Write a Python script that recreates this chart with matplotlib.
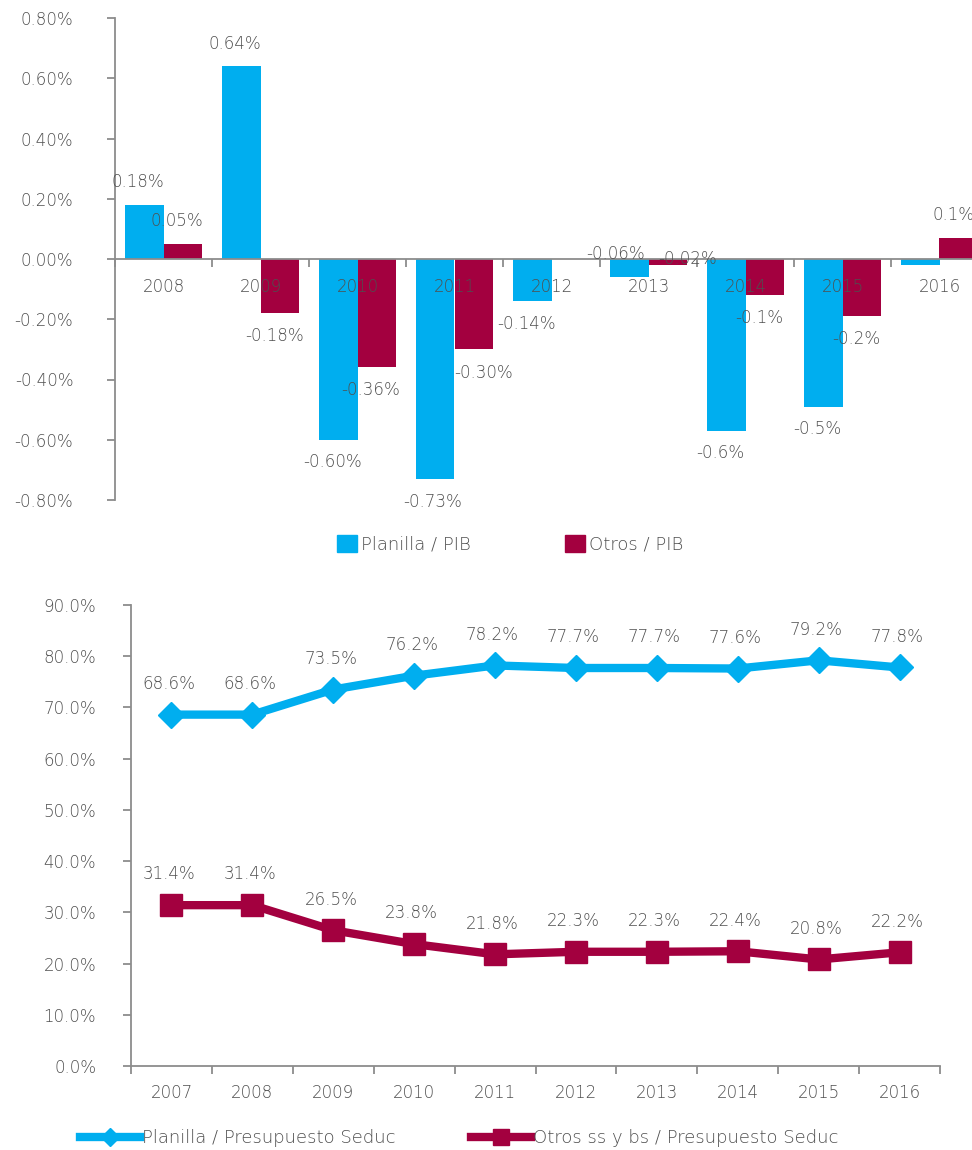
import matplotlib
matplotlib.use("Agg")
import matplotlib.pyplot as plt
import numpy as np
from matplotlib.lines import Line2D
from matplotlib.patches import Patch

# ---------------- data ----------------
years_top = ["2008", "2009", "2010", "2011", "2012", "2013", "2014", "2015", "2016"]
planilla_pib = [0.18, 0.64, -0.60, -0.73, -0.14, -0.06, -0.57, -0.49, -0.02]
otros_pib = [0.05, -0.18, -0.36, -0.30, 0.00, -0.02, -0.12, -0.19, 0.07]
planilla_pib_labels = ["0.18%", "0.64%", "-0.60%", "-0.73%", "-0.14%", "-0.06%", "-0.6%", "-0.5%", ""]
otros_pib_labels = ["0.05%", "-0.18%", "-0.36%", "-0.30%", "", "-0.02%", "-0.1%", "-0.2%", "0.1%"]
top_yticks = [-0.8, -0.6, -0.4, -0.2, 0.0, 0.2, 0.4, 0.6, 0.8]

years_bot = ["2007", "2008", "2009", "2010", "2011", "2012", "2013", "2014", "2015", "2016"]
planilla_seduc = [68.6, 68.6, 73.5, 76.2, 78.2, 77.7, 77.7, 77.6, 79.2, 77.8]
otros_seduc = [31.4, 31.4, 26.5, 23.8, 21.8, 22.3, 22.3, 22.4, 20.8, 22.2]
bot_yticks = [0, 10, 20, 30, 40, 50, 60, 70, 80, 90]

# ---------------- style ----------------
BLUE = "#00AEEF"
MAROON = "#A3003F"
TXT = "#4F4F4F"
AX = "#8C8C8C"
FS = 12
FS_LEG = 13
plt.rcParams["font.family"] = ["DejaVu Sans"]
plt.rcParams["font.weight"] = "light"

W, H = 972, 1150
fig = plt.figure(figsize=(W / 100, H / 100), dpi=100)

def fx(px):
    return px / W

def fy(py):
    return 1 - py / H

# ---------------- top chart ----------------
left, right, top, bot = 115, 988, 18, 500
ax1 = fig.add_axes([fx(left), fy(bot), (right - left) / W, (bot - top) / H])
n = len(years_top)
x = np.arange(n)
bw = 0.4
ax1.bar(x - bw / 2, planilla_pib, bw, color=BLUE, zorder=1)
ax1.bar(x + bw / 2, otros_pib, bw, color=MAROON, zorder=1)
ax1.set_xlim(-0.5, n - 0.5)
ax1.set_ylim(-0.8, 0.8)
ax1.set_yticks(top_yticks)
ax1.set_yticklabels([f"{v:.2f}%".replace("-", "-") for v in top_yticks])
for s in ["top", "right"]:
    ax1.spines[s].set_visible(False)
ax1.spines["bottom"].set_position(("data", 0))
for s in ["left", "bottom"]:
    ax1.spines[s].set_color(AX)
    ax1.spines[s].set_linewidth(1.3)
ax1.set_xticks(np.arange(n + 1) - 0.5)
ax1.set_xticklabels([])
ax1.set_xticks(x, minor=True)
ax1.set_xticklabels(years_top, minor=True)
ax1.tick_params(axis="x", which="major", length=6, width=1.3, color=AX, direction="out")
ax1.tick_params(axis="x", which="minor", length=0, pad=14, labelsize=FS, labelcolor=TXT)
ax1.tick_params(axis="y", length=6, width=1.3, color=AX, pad=24, labelsize=FS, labelcolor=TXT)
ax1.set_axisbelow(False)
for t in ax1.get_xticklabels(minor=True):
    t.set_zorder(5)

# label offsets in data units (x: categories, y: percent)
DX, DY = -0.06, 0.075

def bar_labels(xs, vals, labels, overrides):
    for i, (xx, v, lab) in enumerate(zip(xs, vals, labels)):
        if not lab:
            continue
        dx, dy = overrides.get(i, (DX, DY if v >= 0 else -DY))
        ax1.text(xx + dx, v + dy, lab, ha="center", va="center",
                 fontsize=FS, color=TXT, zorder=6)

bar_labels(x - bw / 2, planilla_pib, planilla_pib_labels, {5: (-0.14, 0.077), 3: (-0.03, -0.075)})
bar_labels(x + bw / 2, otros_pib, otros_pib_labels, {5: (0.2, 0.019), 3: (0.1, -0.08)})

fig.legend(handles=[Patch(color=BLUE, label="Planilla / PIB"),
                    Patch(color=MAROON, label="Otros / PIB")],
           loc="center left", bbox_to_anchor=(fx(337), fy(544)), ncol=2,
           frameon=False, fontsize=FS_LEG, labelcolor=TXT, borderpad=0, borderaxespad=0,
           handlelength=1.1, handleheight=1.1, handletextpad=0.25, columnspacing=5.2)

# ---------------- bottom chart ----------------
left, right, top, bot = 131, 940, 605, 1066
ax2 = fig.add_axes([fx(left), fy(bot), (right - left) / W, (bot - top) / H])
m = len(years_bot)
x2 = np.arange(m)
ax2.plot(x2, planilla_seduc, color=BLUE, lw=6, marker="D", ms=13, zorder=3)
ax2.plot(x2, otros_seduc, color=MAROON, lw=6, marker="s", ms=16, zorder=3)
ax2.set_xlim(-0.5, m - 0.5)
ax2.set_ylim(0, 90)
ax2.set_yticks(bot_yticks)
ax2.set_yticklabels([f"{v:.1f}%" for v in bot_yticks])
for s in ["top", "right"]:
    ax2.spines[s].set_visible(False)
for s in ["left", "bottom"]:
    ax2.spines[s].set_color(AX)
    ax2.spines[s].set_linewidth(1.3)
ax2.set_xticks(np.arange(m + 1) - 0.5)
ax2.set_xticklabels([])
ax2.set_xticks(x2, minor=True)
ax2.set_xticklabels(years_bot, minor=True)
ax2.tick_params(axis="x", which="major", length=6, width=1.3, color=AX, direction="out")
ax2.tick_params(axis="x", which="minor", length=0, pad=13, labelsize=FS, labelcolor=TXT)
ax2.tick_params(axis="y", length=6, width=1.3, color=AX, pad=19, labelsize=FS, labelcolor=TXT)

for series in (planilla_seduc, otros_seduc):
    for xx, v in zip(x2, series):
        ax2.text(xx - 0.03, v + 6.0, f"{v:.1f}%", ha="center", va="center",
                 fontsize=FS, color=TXT)

fig.legend(handles=[Line2D([], [], color=BLUE, lw=6, marker="D", ms=9,
                           label="Planilla / Presupuesto Seduc"),
                    Line2D([], [], color=MAROON, lw=6, marker="s", ms=11,
                           label="Otros ss y bs / Presupuesto Seduc")],
           loc="center left", bbox_to_anchor=(fx(80), fy(1138)), ncol=2,
           frameon=False, fontsize=FS_LEG, labelcolor=TXT, borderpad=0, borderaxespad=0,
           numpoints=1, handlelength=3.3, handletextpad=0.12, columnspacing=4.2)

fig.savefig("out.png", dpi=100)
